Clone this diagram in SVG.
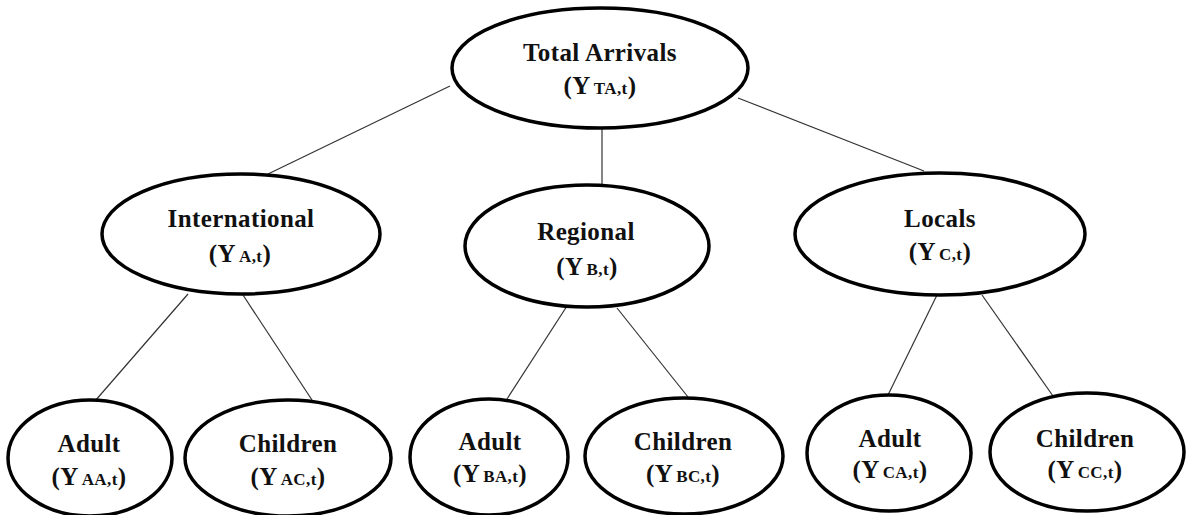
<svg xmlns="http://www.w3.org/2000/svg" width="1187" height="515" viewBox="0 0 1187 515">
<style>
.n{fill:#fff;stroke:#000;stroke-width:3.5}
.t{font-family:"Liberation Serif","Times New Roman",serif;font-weight:bold;font-size:25px;fill:#111;text-anchor:middle;letter-spacing:0.4px}
.s{font-size:17px}
.c line{stroke:#333;stroke-width:1.2}
</style>
<rect width="1187" height="515" fill="#fff"/>
<g id="connectors" class="c">
<line x1="450" y1="86" x2="268" y2="174"/>
<line x1="602" y1="128" x2="602" y2="186"/>
<line x1="738" y1="98" x2="924" y2="171"/>
<line x1="188" y1="294" x2="95" y2="401"/>
<line x1="243" y1="295" x2="312" y2="400"/>
<line x1="567" y1="306" x2="507" y2="399"/>
<line x1="617" y1="308" x2="688" y2="397"/>
<line x1="937" y1="295" x2="888" y2="395"/>
<line x1="982" y1="295" x2="1053" y2="396"/>
</g>
<g id="total">
<ellipse class="n" cx="600" cy="68" rx="148" ry="60"/>
<text class="t" x="600" y="61">Total Arrivals</text>
<text class="t" x="600" y="94">(Y<tspan class="s" dx="3">TA,t</tspan>)</text>
</g>
<g id="international">
<ellipse class="n" cx="241" cy="234" rx="139" ry="60"/>
<text class="t" x="241" y="227">International</text>
<text class="t" x="240" y="262">(Y<tspan class="s" dx="3">A,t</tspan>)</text>
</g>
<g id="regional">
<ellipse class="n" cx="587" cy="246" rx="122" ry="61"/>
<text class="t" x="586" y="240">Regional</text>
<text class="t" x="587" y="275">(Y<tspan class="s" dx="3">B,t</tspan>)</text>
</g>
<g id="locals">
<ellipse class="n" cx="940" cy="234" rx="145" ry="61"/>
<text class="t" x="940" y="227">Locals</text>
<text class="t" x="940" y="260">(Y<tspan class="s" dx="3">C,t</tspan>)</text>
</g>
<g id="adult-a">
<ellipse class="n" cx="90" cy="458" rx="82" ry="58"/>
<text class="t" x="89" y="452">Adult</text>
<text class="t" x="89" y="485">(Y<tspan class="s" dx="3">AA,t</tspan>)</text>
</g>
<g id="children-a">
<ellipse class="n" cx="288" cy="458" rx="103" ry="58"/>
<text class="t" x="288" y="452">Children</text>
<text class="t" x="288" y="485">(Y<tspan class="s" dx="3">AC,t</tspan>)</text>
</g>
<g id="adult-b">
<ellipse class="n" cx="489" cy="457" rx="79" ry="58"/>
<text class="t" x="490" y="450">Adult</text>
<text class="t" x="490" y="482">(Y<tspan class="s" dx="3">BA,t</tspan>)</text>
</g>
<g id="children-b">
<ellipse class="n" cx="684" cy="456" rx="99" ry="58"/>
<text class="t" x="683" y="450">Children</text>
<text class="t" x="683" y="482">(Y<tspan class="s" dx="3">BC,t</tspan>)</text>
</g>
<g id="adult-c">
<ellipse class="n" cx="889" cy="453" rx="82" ry="58"/>
<text class="t" x="890" y="447">Adult</text>
<text class="t" x="890" y="478">(Y<tspan class="s" dx="3">CA,t</tspan>)</text>
</g>
<g id="children-c">
<ellipse class="n" cx="1087" cy="452" rx="97" ry="59"/>
<text class="t" x="1085" y="447">Children</text>
<text class="t" x="1085" y="478">(Y<tspan class="s" dx="3">CC,t</tspan>)</text>
</g>
</svg>
